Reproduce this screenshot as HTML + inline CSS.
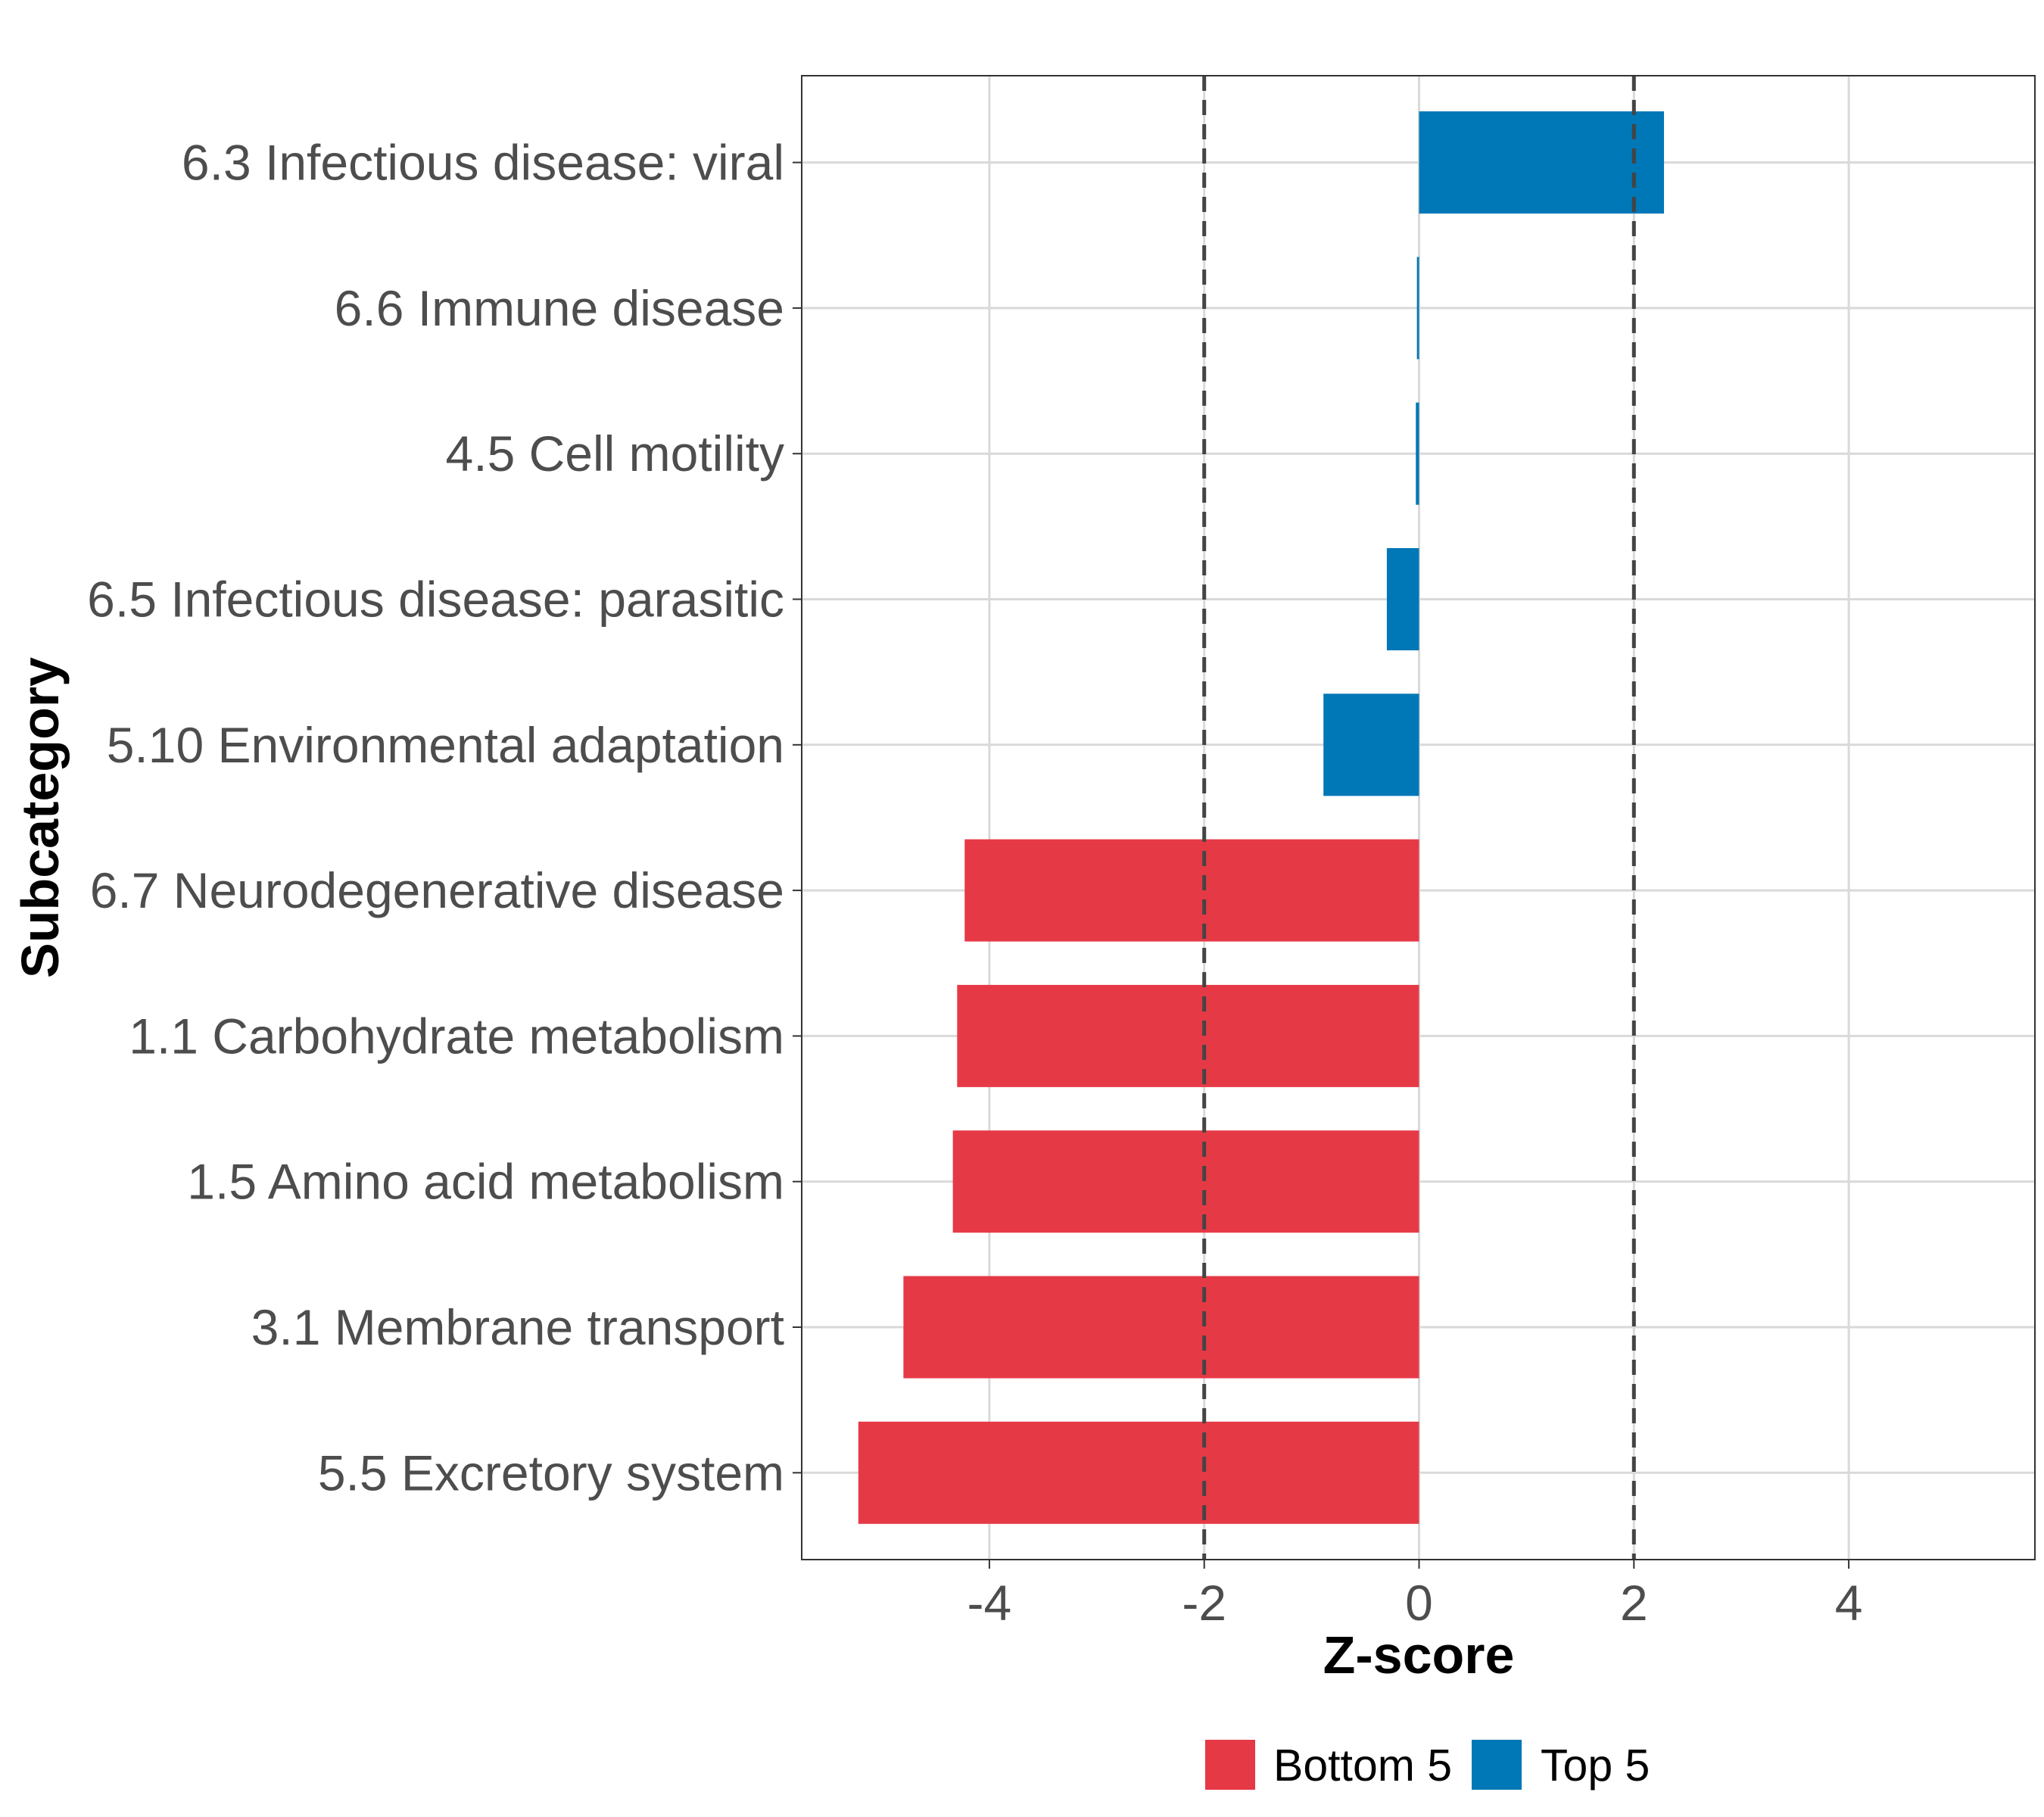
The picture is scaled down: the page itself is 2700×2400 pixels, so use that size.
<!DOCTYPE html>
<html><head><meta charset="utf-8"><style>
html,body{margin:0;padding:0;background:#fff;}
svg{display:block;font-family:"Liberation Sans",Arial,sans-serif;}
</style></head><body>
<svg id="chart" width="2700" height="2400" viewBox="0 0 2700 2400" xmlns="http://www.w3.org/2000/svg">
<rect x="0" y="0" width="2700" height="2400" fill="#fff"/>
<g id="grid"></g>
<g id="bars"></g>
<g id="refs"></g>
<rect x="1059" y="100" width="1629" height="1960" fill="none" stroke="#333" stroke-width="2"/>
<g id="yaxis"></g>
<g id="xaxis"></g>
<text x="1874" y="2210" font-size="70" font-weight="bold" text-anchor="middle" fill="#000">Z-score</text>
<text x="0" y="0" transform="translate(77,1080) rotate(-90)" font-size="70" font-weight="bold" text-anchor="middle" fill="#000">Subcategory</text>
<g>
<g>
<rect x="1592" y="2298" width="66" height="66" fill="#E63946"/>
<text x="1682" y="2352" font-size="59" fill="#000">Bottom 5</text>
</g>
<g>
<rect x="1944" y="2298" width="66" height="66" fill="#0077B6"/>
<text x="2035" y="2352" font-size="59" fill="#000">Top 5</text>
</g>
</g>
</svg>
<script>
const categories = ["6.3 Infectious disease: viral","6.6 Immune disease","4.5 Cell motility","6.5 Infectious disease: parasitic","5.10 Environmental adaptation","6.7 Neurodegenerative disease","1.1 Carbohydrate metabolism","1.5 Amino acid metabolism","3.1 Membrane transport","5.5 Excretory system"];
const zscores = [2.28,-0.02,-0.03,-0.30,-0.89,-4.23,-4.30,-4.34,-4.80,-5.22];
const groups = ["Top 5","Top 5","Top 5","Top 5","Top 5","Bottom 5","Bottom 5","Bottom 5","Bottom 5","Bottom 5"];
const xTicks = [-4,-2,0,2,4];
const thresholds = [-2,2];

const NS="http://www.w3.org/2000/svg";
const X0=1874.5, UNIT=141.9, Y0=214.6, STEP=192.3, BH=135;
const xs=v=>X0+v*UNIT;
const ys=i=>Y0+i*STEP;
const colors={"Top 5":"#0077B6","Bottom 5":"#E63946"};
function mk(tag,attrs,parent){const e=document.createElementNS(NS,tag);for(const k in attrs)e.setAttribute(k,attrs[k]);parent.appendChild(e);return e;}
const grid=document.getElementById('grid'),bars=document.getElementById('bars'),refs=document.getElementById('refs'),yaxis=document.getElementById('yaxis'),xaxis=document.getElementById('xaxis');
xTicks.forEach(t=>{
  const l=mk('line',{x1:xs(t),x2:xs(t),y1:100,y2:2060,stroke:'#d9d9d9','stroke-width':3},grid);
  
  
  const tk=mk('line',{x1:xs(t),x2:xs(t),y1:2060,y2:2072,stroke:'#333','stroke-width':2},xaxis);
  
  
  const tx=mk('text',{x:xs(t),y:2140,'font-size':66,'text-anchor':'middle',fill:'#4d4d4d'},xaxis);
  tx.textContent=(t<0?'-':'')+Math.abs(t);
  
  
});
categories.forEach((c,i)=>{
  const g=mk('line',{x1:1059,x2:2688,y1:ys(i),y2:ys(i),stroke:'#d9d9d9','stroke-width':3},grid);
  
  
  const v=zscores[i];
  const r=mk('rect',{x:Math.min(xs(0),xs(v)),y:ys(i)-BH/2,width:Math.max(Math.abs(xs(v)-xs(0)),2),height:BH,fill:colors[groups[i]]},bars);
  
  
  const tk=mk('line',{x1:1047,x2:1059,y1:ys(i),y2:ys(i),stroke:'#333','stroke-width':2},yaxis);
  
  
  const tx=mk('text',{x:1036,y:ys(i)+23,'font-size':66,'text-anchor':'end',fill:'#4d4d4d'},yaxis);
  tx.textContent=c;
  
  
});
thresholds.forEach(t=>{
  const l=mk('line',{x1:xs(t),x2:xs(t),y1:100,y2:2060,stroke:'#444','stroke-width':5,'stroke-dasharray':'20,12'},refs);
  
  
});
</script>
</body></html>
